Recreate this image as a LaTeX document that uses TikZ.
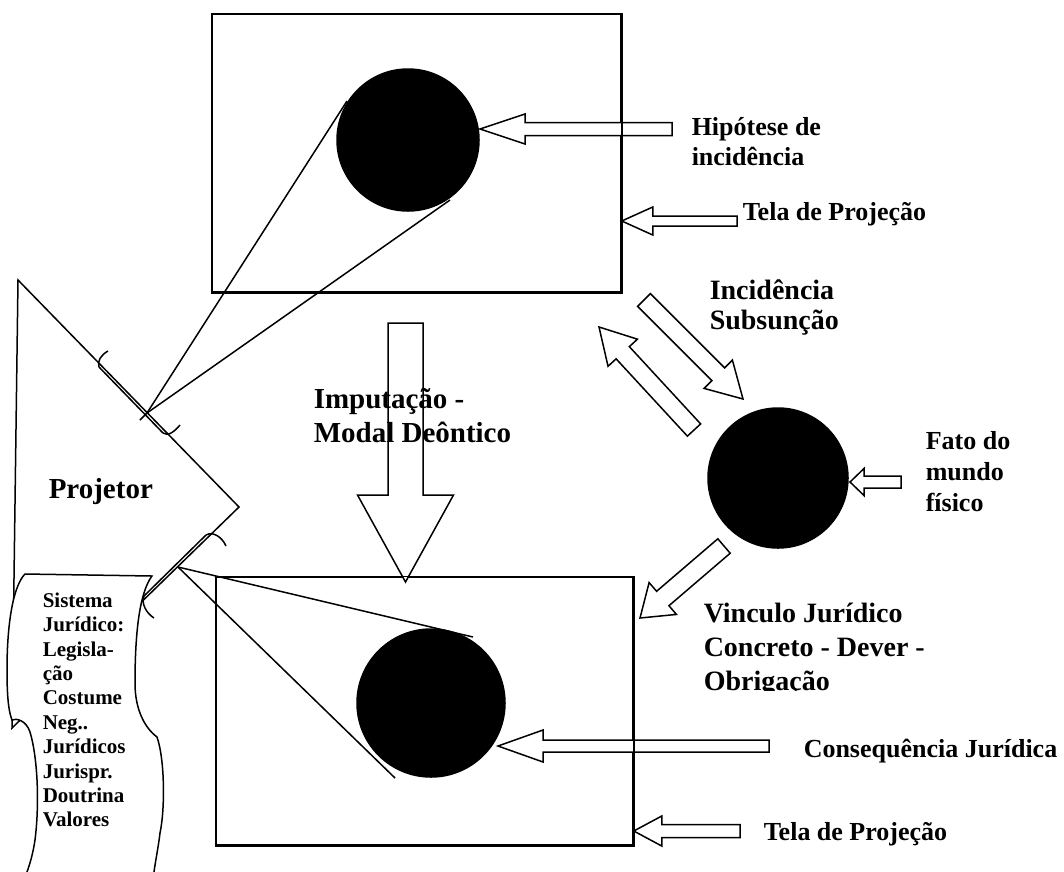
\documentclass[tikz,border=0pt]{standalone}
\usepackage{fontspec}
\setmainfont{Liberation Serif}
\usetikzlibrary{calc}

\tikzset{
  screen/.style={draw, inner sep=0pt},
  disc/.style={circle, draw, fill=black, inner sep=0pt, minimum size=#1},
  caption/.style 2 args={font=\fontsize{#1}{#2}\selectfont\bfseries, align=left, anchor=north west, inner sep=0pt},
  fatarrow/.style n args={3}{draw, fill=white, to path={
    ($(\tikztostart)!#1!90:(\tikztotarget)$)
    -- ($($(\tikztotarget)!#2!(\tikztostart)$)!#1!-90:(\tikztostart)$)
    -- ($($(\tikztotarget)!#2!(\tikztostart)$)!#3!-90:(\tikztostart)$)
    -- (\tikztotarget)
    -- ($($(\tikztotarget)!#2!(\tikztostart)$)!#3!90:(\tikztostart)$)
    -- ($($(\tikztotarget)!#2!(\tikztostart)$)!#1!90:(\tikztostart)$)
    -- ($(\tikztostart)!#1!-90:(\tikztotarget)$) -- cycle}}
}

\begin{document}
\begin{tikzpicture}[x=1pt, y=-1pt, line width=1.5pt]

\useasboundingbox (0,0) rectangle (1064,871);

\node[screen, minimum width=409pt, minimum height=278pt] (topScreen) at (416.5,153) {};
\node[screen, minimum width=417pt, minimum height=268pt] (botScreen) at (424.5,711) {};

% projector and scroll
\coordinate (projTop) at (18,280);
\coordinate (projTip) at (239,507);
\coordinate (projBase) at (12,728);
\draw (projTop) -- (projTip) -- (projBase) -- cycle;

\draw[fill=white] (25,574) -- (152,576)
  .. controls (140,592) and (135,630) .. (135,683)
  .. controls (135,710) and (145,728) .. (157,737)
  .. controls (165,760) and (165,810) .. (160,833)
  .. controls (158,850) and (155,862) .. (153,880) -- (24,880)
  .. controls (27,872) and (32,860) .. (35,840)
  .. controls (40,800) and (37,755) .. (30,732)
  .. controls (26,720) and (16,718) .. (12,720)
  .. controls (9,712) and (7,700) .. (7,670)
  .. controls (7,620) and (14,585) .. (25,574) -- cycle;

% lenses
\draw (99,367) -- (163,433);
\draw (99,367) .. controls (97,361) and (101,355) .. (108,351);
\draw (163,433) .. controls (168,437) and (175,431) .. (180,425);
\draw (206,535) -- (144,596);
\draw (206,535) .. controls (213,531) and (222,537) .. (226,546);
\draw (144,596) .. controls (141,603) and (146,613) .. (154,618);

% projection lines
\coordinate (topFocus) at (147,413);
\coordinate (botFocus) at (178,567);
\coordinate (topRay1) at (347,101);
\coordinate (topRay2) at (450,200);
\coordinate (botRay1) at (473,637);
\coordinate (botRay2) at (395,778);
\draw (topFocus) -- (topRay1);
\draw (topFocus) -- (topRay2);
\draw (topFocus) -- ++(-7,7);
\draw (botFocus) -- (botRay1);
\draw (botFocus) -- (botRay2);

% block arrows
\coordinate (hipTail) at (672,129);
\coordinate (hipTip) at (480,129);
\coordinate (telaTopTail) at (737,221);
\coordinate (telaTopTip) at (topScreen.east |- telaTopTail);
\coordinate (fatoTail) at (901,482);
\coordinate (fatoTip) at (850,482);
\coordinate (consTail) at (769,746);
\coordinate (consTip) at (498,746);
\coordinate (telaBotTail) at (740,831);
\coordinate (telaBotTip) at (botScreen.east |- telaBotTail);
\coordinate (imputTail) at (405.5,323);
\coordinate (imputTip) at (405.5,582);
\coordinate (incDownTail) at (644,300);
\coordinate (incDownTip) at (743,399);
\coordinate (incUpTail) at (694,430);
\coordinate (incUpTip) at (599,327);
\coordinate (vincTail) at (724,546);
\coordinate (vincTip) at (640,618);

\draw[fatarrow={6.5pt}{45pt}{15pt}] (hipTail) to (hipTip);
\draw[fatarrow={5pt}{31pt}{14pt}] (telaTopTail) to (telaTopTip);
\draw[fatarrow={6pt}{14pt}{13.5pt}] (fatoTail) to (fatoTip);
\draw[fatarrow={6pt}{45pt}{16pt}] (consTail) to (consTip);
\draw[fatarrow={6.5pt}{28pt}{15pt}] (telaBotTail) to (telaBotTip);
\draw[fatarrow={17.5pt}{87pt}{48pt}] (imputTail) to (imputTip);
\draw[fatarrow={9pt}{35pt}{20pt}] (incDownTail) to (incDownTip);
\draw[fatarrow={9pt}{35pt}{20pt}] (incUpTail) to (incUpTip);
\draw[fatarrow={9.5pt}{30pt}{21pt}] (vincTail) to (vincTip);

\draw (topScreen.north west) rectangle (topScreen.south east);
\draw (botScreen.north west) rectangle (botScreen.south east);

\node[disc=142pt] (topDisc) at (408,140) {};
\node[disc=140pt] (factDisc) at (778,478) {};
\node[disc=148pt] (botDisc) at (431,703) {};

% texts
\node[caption={26}{30}] (hipText) at (691,117) {Hipótese de\\incidência};
\node[caption={26}{30}] (telaTopText) at (742,202) {Tela de Projeção};
\node[caption={28}{30}] (incText) at (709,279) {Incidência\\Subsunção};
\node[caption={29}{34}] (imputText) at (313,388) {Imputação -\\Modal Deôntico};
\node[caption={29}{34}] (projText) at (48,478) {Projetor};
\node[caption={26}{31}] (fatoText) at (925,431) {Fato do\\mundo\\físico};
\begin{scope}
\clip (690,590) rectangle (1000,690);
\node[caption={28}{34}] (vincText) at (703,602) {Vinculo Jurídico\\Concreto - Dever -\\Obrigação};
\end{scope}
\node[caption={26}{30}] (consText) at (803,738) {Consequência Jurídica};
\node[caption={26}{30}] (telaBotText) at (763,822) {Tela de Projeção};
\node[caption={21}{24.4}] (lawText) at (42,592) {Sistema\\Jurídico:\\Legisla-\\ção\\Costume\\Neg..\\Jurídicos\\Jurispr.\\Doutrina\\Valores};

\end{tikzpicture}
\end{document}
